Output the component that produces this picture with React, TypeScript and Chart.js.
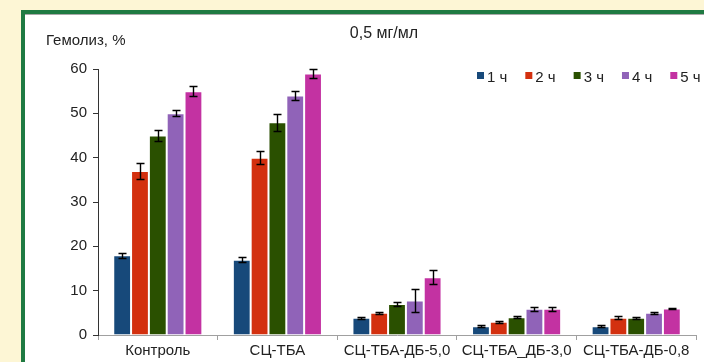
import React, { useEffect, useRef } from 'react';
import { Chart, registerables } from 'chart.js';

Chart.register(...registerables);

const categories = ['Контроль', 'СЦ-ТБА', 'СЦ-ТБА-ДБ-5,0', 'СЦ-ТБА_ДБ-3,0', 'СЦ-ТБА-ДБ-0,8'];
const seriesLabels = ['1 ч', '2 ч', '3 ч', '4 ч', '5 ч'];
const values1h = [18, 17, 3.9, 2.0, 2.0];
const errors1h = [0.6, 0.6, 0.2, 0.2, 0.2];
const values2h = [37, 40, 5.0, 3.0, 3.9];
const errors2h = [1.8, 1.5, 0.2, 0.2, 0.4];
const values3h = [45, 48, 7.0, 4.0, 3.9];
const errors3h = [1.3, 1.9, 0.5, 0.2, 0.2];
const values4h = [50, 54, 7.8, 5.9, 5.0];
const errors4h = [0.7, 1.0, 2.6, 0.5, 0.2];
const values5h = [55, 59, 13.0, 5.9, 6.0];
const errors5h = [1.1, 1.0, 1.6, 0.5, 0.2];
const seriesColors = ['#17497a', '#d3300f', '#2a5000', '#9063b8', '#c332a2'];
const yMin = 0;
const yMax = 60;
const yStep = 10;
const yTitle = 'Гемолиз, %';
const chartTitle = '0,5 мг/мл';

const FONT = "'Liberation Sans', Arial, sans-serif";

const allValues = [values1h, values2h, values3h, values4h, values5h];
const allErrors = [errors1h, errors2h, errors3h, errors4h, errors5h];

const errorBarPlugin = {
  id: 'errorBars',
  afterDatasetsDraw(chart: any) {
    const ctx = chart.ctx;
    const y = chart.scales.y;
    chart.data.datasets.forEach((ds: any, i: number) => {
      const meta = chart.getDatasetMeta(i);
      meta.data.forEach((bar: any, j: number) => {
        const v = ds.data[j];
        const e = ds.errors[j];
        const top = Math.round(y.getPixelForValue(v + e)) + 0.5;
        const bot = Math.round(y.getPixelForValue(v - e)) + 0.5;
        const x = Math.round(bar.x) + 0.5;
        ctx.save();
        ctx.strokeStyle = '#000';
        ctx.lineWidth = 1.4;
        ctx.beginPath();
        ctx.moveTo(x, top);
        ctx.lineTo(x, bot);
        ctx.moveTo(x - 4, top);
        ctx.lineTo(x + 4, top);
        ctx.moveTo(x - 4, bot);
        ctx.lineTo(x + 4, bot);
        ctx.stroke();
        ctx.restore();
      });
    });
  },
};

const textPlugin = {
  id: 'texts',
  afterDraw(chart: any) {
    const ctx = chart.ctx;
    const area = chart.chartArea;
    ctx.save();
    ctx.fillStyle = '#222';
    ctx.textBaseline = 'alphabetic';
    // axis title
    ctx.font = `15px ${FONT}`;
    ctx.textAlign = 'left';
    ctx.fillText(yTitle, area.left - 52, area.top - 24);
    // chart title
    ctx.font = `16px ${FONT}`;
    ctx.textAlign = 'center';
    ctx.fillText(chartTitle, area.left + 286, area.top - 31);
    // legend
    ctx.font = `15px ${FONT}`;
    ctx.textAlign = 'left';
    let x = area.right - 219;
    const boxY = area.top + 3;
    chart.data.datasets.forEach((ds: any) => {
      ctx.fillStyle = ds.backgroundColor;
      ctx.fillRect(x, boxY, 7, 7);
      ctx.fillStyle = '#222';
      ctx.fillText(ds.label, x + 10, boxY + 10);
      const w = ctx.measureText(ds.label).width;
      x += 7 + 3 + w + 18;
    });
    ctx.restore();
  },
};

export default function App() {
  const ref = useRef<HTMLCanvasElement | null>(null);

  useEffect(() => {
    if (!ref.current) return;
    const chart = new Chart(ref.current, {
      type: 'bar',
      data: {
        labels: categories,
        datasets: seriesLabels.map((label, i) => ({
          label,
          data: allValues[i],
          errors: allErrors[i],
          backgroundColor: seriesColors[i],
          borderColor: 'rgba(255,255,255,0.2)',
          borderWidth: 1,
          categoryPercentage: 0.745,
          barPercentage: 1,
        })) as any,
      },
      options: {
        responsive: false,
        animation: false,
        layout: { padding: { left: 0, top: 69, right: 8, bottom: 0 } },
        plugins: {
          legend: { display: false },
          tooltip: { enabled: false },
          title: { display: false },
        },
        scales: {
          x: {
            grid: {
              display: true,
              drawOnChartArea: false,
              tickLength: 5,
              color: '#a0a0a0',
              offset: true,
            },
            border: { color: '#a0a0a0' },
            ticks: {
              color: '#222',
              font: { size: 15, family: FONT },
              padding: 2,
              maxRotation: 0,
              autoSkip: false,
            },
            afterFit: (s: any) => {
              s.height = 27;
            },
          },
          y: {
            min: yMin,
            max: yMax,
            ticks: {
              stepSize: yStep,
              color: '#222',
              font: { size: 15, family: FONT },
              padding: 6,
            },
            grid: {
              drawOnChartArea: false,
              tickLength: 5,
              color: '#333',
            },
            border: { color: '#333' },
            afterFit: (s: any) => {
              s.width = 98;
            },
          },
        },
      },
      plugins: [errorBarPlugin, textPlugin],
    });
    return () => chart.destroy();
  }, []);

  return (
    <div
      style={{
        position: 'fixed',
        left: 0,
        top: 0,
        width: 704,
        height: 362,
        background: '#fdf6d5',
        overflow: 'hidden',
      }}
    >
      <div
        style={{
          position: 'absolute',
          left: 21,
          top: 10,
          width: 683,
          height: 352,
          boxSizing: 'border-box',
          borderLeft: '4px solid #1f7a42',
          borderTop: '4px solid #1f7a42',
          background: '#fff',
        }}
      />
      <div
        style={{
          position: 'absolute',
          left: 25,
          top: 14,
          width: 679,
          height: 1,
          background: '#a8a8a8',
        }}
      />
      <canvas
        ref={ref}
        width={704}
        height={362}
        style={{ position: 'absolute', left: 0, top: 0, width: 704, height: 362 }}
      />
    </div>
  );
}
